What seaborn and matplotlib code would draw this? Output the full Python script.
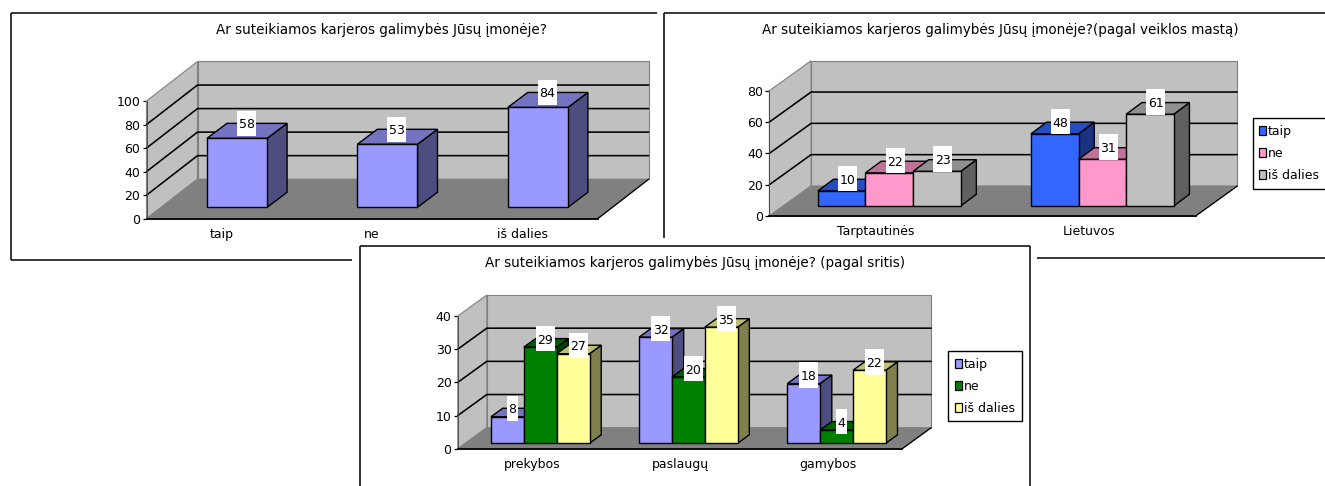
import matplotlib
matplotlib.use("Agg")
import matplotlib.pyplot as plt
import pandas as pd
import seaborn as sns
from matplotlib.lines import Line2D
from matplotlib.patches import Patch, Polygon, Rectangle
from matplotlib.transforms import Affine2D, IdentityTransform
from matplotlib.colors import to_rgb

# Survey answers
answers = ["taip", "ne", "iš dalies"]
overall_values = [58, 53, 84]

scope_categories = ["Tarptautinės", "Lietuvos"]
scope_taip = [10, 48]
scope_ne = [22, 31]
scope_dalies = [23, 61]

sector_categories = ["prekybos", "paslaugų", "gamybos"]
sector_taip = [8, 32, 18]
sector_ne = [29, 20, 4]
sector_dalies = [27, 35, 22]

title_overall = "Ar suteikiamos karjeros galimybės Jūsų įmonėje?"
title_scope = "Ar suteikiamos karjeros galimybės Jūsų įmonėje?(pagal veiklos mastą)"
title_sector = "Ar suteikiamos karjeros galimybės Jūsų įmonėje? (pagal sritis)"

overall_ticks = [0, 20, 40, 60, 80, 100]
scope_ticks = [0, 20, 40, 60, 80]
sector_ticks = [0, 10, 20, 30, 40]

scope_palette = ["#3366FF", "#FF99CC", "#C0C0C0"]
sector_palette = ["#9999FF", "#008000", "#FFFF99"]
overall_colour = "#9999FF"

W, H = 1325, 486
FONT = 9.0
TITLE_FONT = 9.75
sns.set_theme(style="white")
plt.rcParams["font.family"] = ["DejaVu Sans"]
plt.rcParams["text.color"] = "black"
plt.rcParams["xtick.labelcolor"] = "black"
plt.rcParams["ytick.labelcolor"] = "black"

fig = plt.figure(figsize=(W / 100, H / 100), dpi=100, facecolor="white")
identity = IdentityTransform()


def fig_line(xs, ys, lw=1.1):
    """Frame line given in image pixels measured from the top left."""
    fig.add_artist(Line2D(xs, [H - y for y in ys], transform=identity,
                          color="black", lw=lw, solid_capstyle="butt"))


def fake_3d_bars(df, ticks, title, title_xy, geom, palette=None, colour=None,
                 legend_at=None):
    left, right, y0, ytop = geom["front"]
    ax = fig.add_axes([left / W, 1 - y0 / H, (right - left) / W, (y0 - ytop) / H])
    ax.patch.set_visible(False)

    if palette is not None:
        sns.barplot(data=df, x="kategorija", y="reiksme", hue="atsakymas",
                    palette=palette, saturation=1, width=geom["width"], gap=0,
                    edgecolor="black", linewidth=1.0, legend=False, ax=ax)
    else:
        sns.barplot(data=df, x="kategorija", y="reiksme", color=colour,
                    saturation=1, width=geom["width"], edgecolor="black",
                    linewidth=1.0, ax=ax)

    n_cat = df["kategorija"].nunique()
    ax.set_xlim(-0.5, n_cat - 0.5)
    ax.set_ylim(ticks[0], ticks[-1])
    ax.set_yticks(ticks)
    ax.set_xlabel("")
    ax.set_ylabel("")
    ax.set_xticks([i - 0.5 for i in range(n_cat + 1)], minor=True)
    ax.tick_params(axis="x", which="major", length=0, pad=geom["xpad"], labelsize=FONT,
                   labelcolor="black")
    ax.tick_params(axis="x", which="minor", length=3, width=0.9, color="black")
    ax.tick_params(axis="y", length=3, width=0.9, color="black", pad=1.5, labelsize=FONT,
                   labelcolor="black", left=True)
    for side in ("top", "right"):
        ax.spines[side].set_visible(False)
    ax.spines["left"].set_linewidth(0.6)
    ax.spines["left"].set_color("#404040")
    ax.spines["bottom"].set_linewidth(1.3)
    ax.spines["bottom"].set_color("black")
    for spine in ax.spines.values():
        spine.set_zorder(5)

    # Room behind the bars: back wall, side wall, floor and grid
    ddx, ddy = geom["room"]
    a, b = ax.transData.transform((-0.5, ticks[0])), ax.transData.transform((n_cat - 0.5, ticks[0]))
    c = ax.transData.transform((-0.5, ticks[-1]))
    back = [(a[0] + ddx, a[1] + ddy), (b[0] + ddx, b[1] + ddy),
            (b[0] + ddx, c[1] + ddy), (a[0] + ddx, c[1] + ddy)]
    sidewall = [tuple(a), back[0], back[3], tuple(c)]
    floor = [tuple(a), tuple(b), back[1], back[0]]
    for pts, fc in ((back, "#C0C0C0"), (sidewall, "#C0C0C0"), (floor, "#808080")):
        ax.add_patch(Polygon(pts, closed=True, facecolor=fc, edgecolor="#808080", lw=0.8,
                             transform=identity, clip_on=False, zorder=1))
    ax.add_line(Line2D([b[0], back[1][0]], [b[1], back[1][1]], color="black", lw=0.9,
                       transform=identity, clip_on=False, zorder=3))
    for t in ticks[1:-1]:
        p = ax.transData.transform((-0.5, t))
        ax.add_line(Line2D([p[0], p[0] + ddx, b[0] + ddx], [p[1], p[1] + ddy, p[1] + ddy],
                           color="black", lw=1.15, transform=identity, clip_on=False, zorder=2))

    # Bars stand part way into the room and get side and top faces
    sx, sy = geom["shift"]
    bx, by = geom["depth"]
    bar_tf = (Affine2D().scale(1, geom["yscale"]) + ax.transData
              + Affine2D().translate(sx, sy))
    bars = sorted([p for p in ax.patches if isinstance(p, Rectangle) and p.get_height() > 0],
                  key=lambda p: p.get_x())
    for i, bar in enumerate(bars):
        x, w, h = bar.get_x(), bar.get_width(), bar.get_height()
        base = 10 + i * 4
        bar.set_transform(bar_tf)
        bar.set_clip_on(False)
        bar.set_zorder(base + 2)
        face = to_rgb(bar.get_facecolor()[:3])
        p00 = bar_tf.transform((x, 0))
        p10 = bar_tf.transform((x + w, 0))
        p11 = bar_tf.transform((x + w, h))
        p01 = bar_tf.transform((x, h))
        side = [p10, p11, p11 + (bx, by), p10 + (bx, by)]
        top = [p01, p11, p11 + (bx, by), p01 + (bx, by)]
        ax.add_patch(Polygon(side, closed=True, transform=identity, clip_on=False, lw=1.0,
                             facecolor=tuple(v * 0.5 for v in face), edgecolor="black",
                             zorder=base))
        ax.add_patch(Polygon(top, closed=True, transform=identity, clip_on=False, lw=1.0,
                             facecolor=tuple(v * 0.75 for v in face), edgecolor="black",
                             zorder=base + 1))
        # Value tag in a white box
        label = f"{h:.0f}"
        cx = (p01[0] + p11[0]) / 2 + geom["tag_dx"]
        cy = p01[1] + geom["tag_dy"]
        tw = 9 + 5 * len(label) if len(label) == 2 else 11
        ax.add_patch(Rectangle((cx - tw / 2, cy - 12.7), tw, 25.4, facecolor="white",
                               edgecolor="none", transform=identity, clip_on=False,
                               zorder=200))
        ax.text(cx, cy, label, transform=identity, ha="center", va="center_baseline",
                fontsize=FONT, color="black", clip_on=False, zorder=201)

    fig.text(title_xy[0] / W, 1 - title_xy[1] / H, title, ha="center", va="center",
             fontsize=TITLE_FONT, color="black")

    if legend_at is not None:
        handles = [Patch(facecolor=c_, edgecolor="black", lw=0.9) for c_ in palette]
        leg = ax.legend(handles, answers, loc="center left",
                        bbox_to_anchor=(legend_at[0], H - legend_at[1]),
                        bbox_transform=identity, borderaxespad=0, frameon=True,
                        fancybox=False, edgecolor="black", framealpha=1,
                        fontsize=FONT, handlelength=0.55, handleheight=0.75,
                        handletextpad=0.15, labelspacing=0.7, borderpad=0.55,
                        labelcolor="black")
        leg.get_frame().set_linewidth(1.0)
        leg.set_zorder(300)
    return ax


def long_table(categories, series):
    rows = []
    for name, values in series.items():
        for cat, val in zip(categories, values):
            rows.append({"kategorija": cat, "atsakymas": name, "reiksme": val})
    return pd.DataFrame(rows)


# Frames around the three charts
fig_line([10.5, 657], [13, 13])
fig_line([10.5, 10.5], [13, 260])
fig_line([10.5, 352], [260, 260])
fig_line([663.5, 1325], [13, 13])
fig_line([663.5, 663.5], [13, 238])
fig_line([1036.5, 1325], [258, 258])
fig_line([360, 1030], [245.7, 245.7])
fig_line([360, 360], [245.7, 486])
fig_line([1030, 1030], [245.7, 486])

fake_3d_bars(
    pd.DataFrame({"kategorija": answers, "reiksme": overall_values}),
    overall_ticks, title_overall, (381, 30),
    dict(front=(146.5, 597.7, 218.7, 101), room=(51, 39.5), shift=(15.3, 11.4),
         depth=(20, 15), width=0.40, yscale=1.01, xpad=6.5, tag_dx=9.5, tag_dy=15),
    colour=overall_colour,
)

fake_3d_bars(
    long_table(scope_categories, dict(zip(answers, [scope_taip, scope_ne, scope_dalies]))),
    scope_ticks, title_scope, (1000, 30),
    dict(front=(769.4, 1195.6, 216, 90.7), room=(41.7, 30), shift=(13.3, 10),
         depth=(15.7, 11.7), width=0.67, yscale=0.96, xpad=6.5, tag_dx=6, tag_dy=12.3),
    palette=scope_palette, legend_at=(1252.5, 153.5),
)

fake_3d_bars(
    long_table(sector_categories, dict(zip(answers, [sector_taip, sector_ne, sector_dalies]))),
    sector_ticks, title_sector, (695, 263.3),
    dict(front=(457.8, 902.2, 448.7, 316), room=(29, 21), shift=(8.4, 5.4),
         depth=(11.7, 8.5), width=0.665, yscale=1.0, xpad=7, tag_dx=5, tag_dy=8.4),
    palette=sector_palette, legend_at=(948.4, 386.3),
)

fig.savefig("out.png", dpi=100, facecolor="white")
